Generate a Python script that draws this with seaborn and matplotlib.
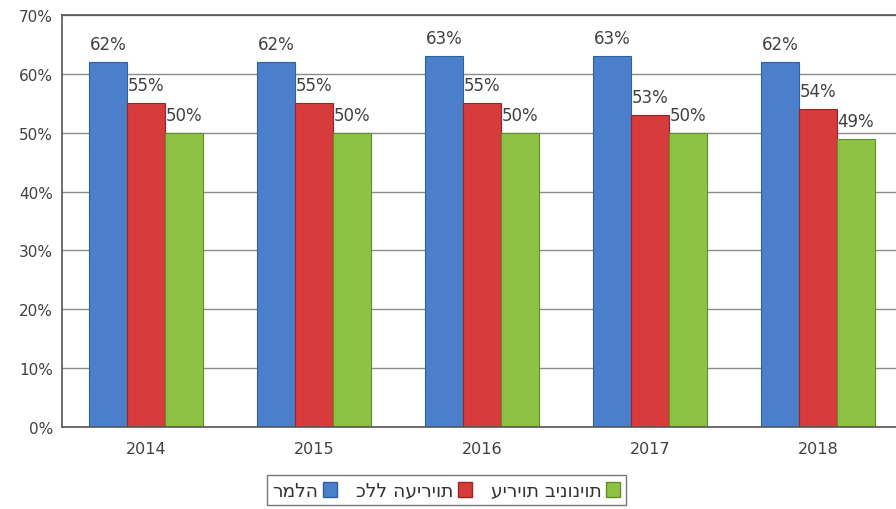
import matplotlib
matplotlib.use("Agg")
import matplotlib.pyplot as plt
import seaborn as sns
import pandas as pd
from matplotlib.ticker import FixedLocator, FuncFormatter
from matplotlib.patches import Patch

years = ["2014", "2015", "2016", "2017", "2018"]
series_names = ["רמלה", "כלל העיריות", "עיריות בינוניות"]
ramla = [62, 62, 63, 63, 62]
all_cities = [55, 55, 55, 53, 54]
medium_cities = [50, 50, 50, 50, 49]
colors = ["#4a7fcb", "#d83b3b", "#8dc245"]
edge_colors = ["#2f5f9e", "#9e2222", "#5f8f27"]

rows = []
for name, vals in zip(series_names, [ramla, all_cities, medium_cities]):
    for y, v in zip(years, vals):
        rows.append({"year": y, "series": name, "value": v})
df = pd.DataFrame(rows)

sns.set_style("white")
plt.rcParams["font.family"] = ["DejaVu Sans"]

fig = plt.figure(figsize=(8.96, 5.10), dpi=100)
ax = fig.add_axes([0.0692, 0.1608, 0.9375, 0.8078])

sns.barplot(data=df, x="year", y="value", hue="series", hue_order=series_names,
            order=years, palette=colors, width=0.68, saturation=1, ax=ax,
            legend=False)

for cont, ec in zip(ax.containers, edge_colors):
    for bar in cont:
        bar.set_edgecolor(ec)
        bar.set_linewidth(0.8)
        h = bar.get_height()
        ax.text(bar.get_x() + 0.003, h + 1.5, f"{h:.0f}%", ha="left", va="bottom",
                fontsize=12, color="#404040")

ax.set_xlim(-0.5, 4.5)
ax.set_ylim(0, 70)
ax.yaxis.set_major_locator(FixedLocator([0, 10, 20, 30, 40, 50, 60, 70]))
ax.yaxis.set_major_formatter(FuncFormatter(lambda v, p: f"{v:.0f}%"))
ax.yaxis.grid(True, color="#8a8a8a", linewidth=1.0)
ax.set_axisbelow(True)
ax.set_xlabel("")
ax.set_ylabel("")

ax.xaxis.set_minor_locator(FixedLocator([0.5, 1.5, 2.5, 3.5]))
ax.tick_params(axis="x", which="major", length=0, pad=10, labelsize=11.5, labelcolor="#404040")
ax.tick_params(axis="x", which="minor", length=6, width=1, color="#555555", direction="inout")
ax.tick_params(axis="y", which="major", length=5, width=1, color="#555555", direction="out",
               labelsize=11, labelcolor="#404040", pad=1.5)

for side in ["left", "bottom", "top"]:
    ax.spines[side].set_visible(True)
    ax.spines[side].set_color("#555555")
    ax.spines[side].set_linewidth(1.2)
ax.spines["right"].set_visible(False)

handles = [Patch(facecolor=c, edgecolor=e) for c, e in zip(colors, edge_colors)]
leg = fig.legend(handles, series_names, ncol=3, markerfirst=False,
                 loc="center", bbox_to_anchor=(0.498, 0.037), frameon=True,
                 fancybox=False, edgecolor="#555555", fontsize=13.5,
                 handlelength=0.75, handleheight=0.85, handletextpad=0.25,
                 columnspacing=1.0, borderpad=0.3)
leg.get_frame().set_linewidth(1.0)
for t in leg.get_texts():
    t.set_color("#333333")

fig.savefig("out.png", dpi=100)
